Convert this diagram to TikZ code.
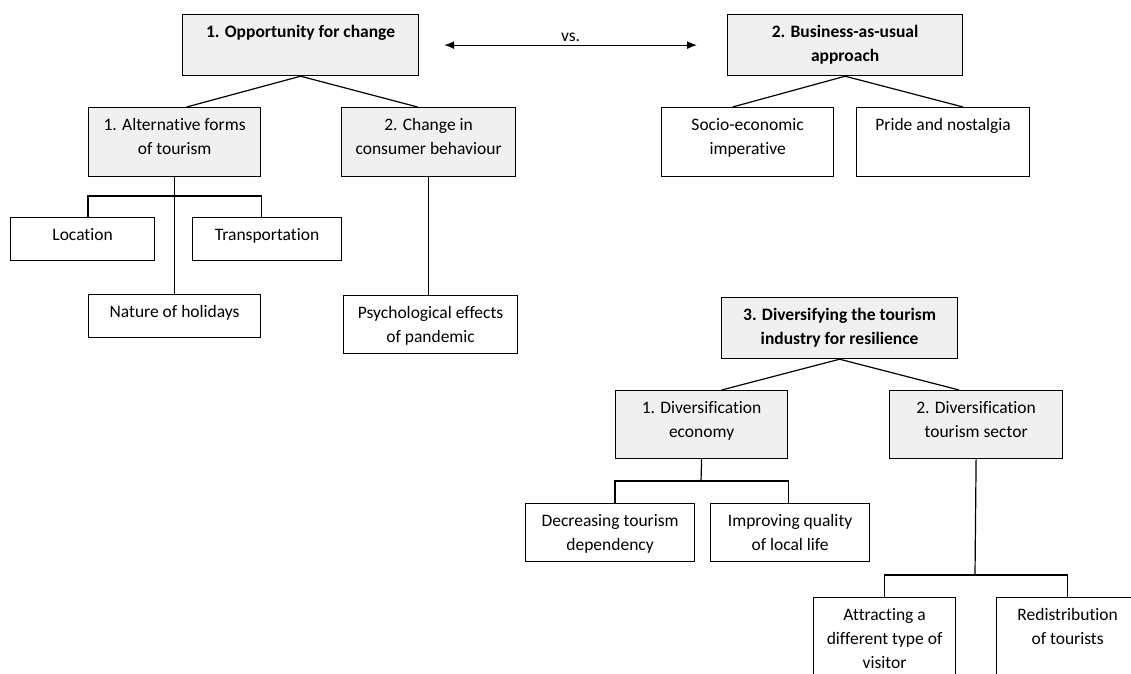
\documentclass[tikz,border=0pt]{standalone}
\usepackage{fontspec}
\setmainfont{Carlito}[Ligatures=NoCommon]
\usetikzlibrary{arrows.meta}
\definecolor{boxgray}{RGB}{240,240,240}
\newcommand{\cell}[3]{\parbox[b][#2pt][t]{#1pt}{\centering\rule{0pt}{23pt}#3\par}}

\begin{document}
\begin{tikzpicture}[x=1pt, y=-1pt, line width=1.2pt,
        font=\fontsize{17.5}{24}\selectfont,
        box/.style={draw, inner sep=0pt, anchor=north west},
        greybox/.style={box, fill=boxgray},
        headbox/.style={greybox, font=\fontsize{17.5}{24}\selectfont\bfseries}]
        \clip (0,0) rectangle (1131,673);

        % opportunity for change
        \node[headbox] (opp) at (182,14) {\cell{236}{61}{1. Opportunity for change}};
        \node[greybox] (alt) at (88,107) {\cell{172}{69}{1. Alternative forms\\of tourism}};
        \node[greybox] (cons) at (341,107) {\cell{174}{69}{2. Change in\\consumer behaviour}};
        \node[box] (loc) at (10,217) {\cell{144}{43}{Location}};
        \node[box] (trans) at (192,217) {\cell{149}{43}{Transportation}};
        \node[box] (nature) at (88,294) {\cell{172}{43}{Nature of holidays}};
        \node[box] (psych) at (343,295) {\cell{174}{58}{Psychological effects\\of pandemic}};
        \coordinate (altfork) at (174,196);

        % business as usual
        \node[headbox] (bau) at (727,14) {\cell{235}{61}{2. Business-as-usual\\approach}};
        \node[box] (socio) at (661,107) {\cell{172}{69}{Socio-economic\\imperative}};
        \node[box] (pride) at (856,107) {\cell{173}{69}{Pride and nostalgia}};

        % diversifying
        \node[headbox] (div) at (721,297) {\cell{236}{61}{3. Diversifying the tourism\\industry for resilience}};
        \node[greybox] (econ) at (615,390) {\cell{172}{68}{1. Diversification\\economy}};
        \node[greybox] (sector) at (889,390) {\cell{173}{68}{2. Diversification\\tourism sector}};
        \node[box] (decr) at (525,503) {\cell{169}{58}{Decreasing tourism\\dependency}};
        \node[box] (impr) at (710,503) {\cell{159}{58}{Improving quality\\of local life}};
        \node[box] (attr) at (813,597) {\cell{142}{90}{Attracting a\\different type of\\visitor}};
        \node[box] (redis) at (996,597) {\cell{142}{90}{Redistribution\\of tourists}};
        \coordinate (econfork) at (701,481);
        \coordinate (sectorfork) at (975,575);

        \draw[{Latex[length=10pt,width=8pt]}-{Latex[length=10pt,width=8pt]}] ([xshift=25pt]opp.east) -- node[above] (vs) {vs.} ([xshift=-30pt]bau.west);

        \draw (opp.south) -- ([xshift=12pt]alt.north);
        \draw (opp.south) -- ([xshift=-11pt]cons.north);
        \draw (alt.south) -- (nature.north);
        \draw (alt.west |- loc.north) -- (alt.west |- altfork) -- (alt.east |- altfork) -- (alt.east |- trans.north);
        \draw (cons.south) -- (cons.south |- psych.north);

        \draw (bau.south) -- ([xshift=-15pt]socio.north);
        \draw (bau.south) -- ([xshift=20pt]pride.north);

        \draw (div.south) -- ([xshift=20pt]econ.north);
        \draw (div.south) -- ([xshift=-17pt]sector.north);
        \draw (econ.south) -- (econfork);
        \draw (econ.west |- decr.north) -- (econ.west |- econfork) -- (econ.east |- econfork) -- (econ.east |- impr.north);
        \draw (sector.south) -- (sectorfork);
        \draw (attr.north) -- (attr.north |- sectorfork) -- (redis.north |- sectorfork) -- (redis.north);
\end{tikzpicture}
\end{document}
